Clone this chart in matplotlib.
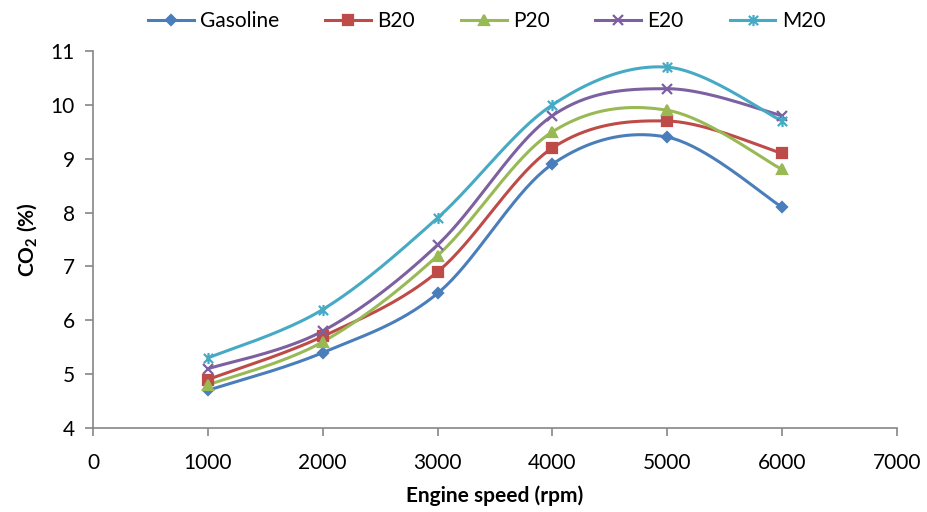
import numpy as np
import matplotlib
matplotlib.use('Agg')
import matplotlib.pyplot as plt
from matplotlib.path import Path

plt.rcParams['font.family'] = ['Lato', 'DejaVu Sans']
plt.rcParams['mathtext.fontset'] = 'custom'
plt.rcParams['mathtext.rm'] = 'Lato'
plt.rcParams['mathtext.bf'] = 'Lato:bold'

speed = [1000, 2000, 3000, 4000, 5000, 6000]
gasoline = [4.7, 5.4, 6.5, 8.9, 9.4, 8.1]
b20 = [4.9, 5.7, 6.9, 9.2, 9.7, 9.1]
p20 = [4.8, 5.6, 7.2, 9.5, 9.9, 8.8]
e20 = [5.1, 5.8, 7.4, 9.8, 10.3, 9.8]
m20 = [5.3, 6.2, 7.9, 10.0, 10.7, 9.7]


def smooth(x, y, n=40):
    # Excel-like smoothed line: Catmull-Rom bezier between points
    x = np.asarray(x, float)
    y = np.asarray(y, float)
    P = np.column_stack([x / 1000.0, y])
    P = np.vstack([P[0], P, P[-1]])
    out = []
    t = np.linspace(0, 1, n)[:, None]
    for i in range(1, len(P) - 2):
        p0, p1, p2, p3 = P[i - 1], P[i], P[i + 1], P[i + 2]
        c1 = p1 + (p2 - p0) / 6.0
        c2 = p2 - (p3 - p1) / 6.0
        seg = ((1 - t) ** 3) * p1 + 3 * ((1 - t) ** 2) * t * c1 + 3 * (1 - t) * t ** 2 * c2 + t ** 3 * p2
        out.append(seg if i == 1 else seg[1:])
    out = np.vstack(out)
    return out[:, 0] * 1000.0, out[:, 1]


star = Path([(-1, -1), (1, 1), (-1, 1), (1, -1), (0, -1.2), (0, 1.2)],
            [Path.MOVETO, Path.LINETO, Path.MOVETO, Path.LINETO, Path.MOVETO, Path.LINETO])

series = [
    ('Gasoline', gasoline, '#4A7EBB', 'D', 5),
    ('B20', b20, '#BE4B48', 's', 7),
    ('P20', p20, '#98B954', '^', 7),
    ('E20', e20, '#7D60A0', 'x', 7),
    ('M20', m20, '#46AAC5', star, 8),
]

fig = plt.figure(figsize=(9.27, 5.12), dpi=100)
ax = fig.add_axes([0.1003, 0.164, 0.8673, 0.7364])

for name, vals, col, mk, ms in series:
    xs, ys = smooth(speed, vals)
    ax.plot(xs, ys, color=col, lw=2.2, zorder=2)
    ax.plot(speed, vals, linestyle='none', marker=mk, ms=ms, color=col,
            mec=col, mew=1.6, zorder=3)
    ax.plot([], [], color=col, lw=2.2, marker=mk, ms=ms, mec=col, mew=1.6, label=name)

ax.set_xlim(0, 7000)
ax.set_ylim(4, 11)
ax.set_xticks(range(0, 7001, 1000))
ax.set_yticks(range(4, 12))
for s in ['top', 'right']:
    ax.spines[s].set_visible(False)
for s in ['left', 'bottom']:
    ax.spines[s].set_color('#868686')
    ax.spines[s].set_linewidth(1.2)
ax.tick_params(direction='out', length=6, width=1.2, color='#868686', labelsize=15, pad=7)
ax.tick_params(axis='x', pad=12)
ax.set_xlabel('Engine speed (rpm)', fontsize=15, fontweight='bold', labelpad=9)
ax.set_ylabel('CO$_\\mathbf{2}$ (%)', fontsize=15, fontweight='bold', labelpad=8)

fig.legend(loc='upper center', bbox_to_anchor=(0.525, 1.015), ncol=5, frameon=False,
           fontsize=15, handlelength=2.2, columnspacing=2.2, handletextpad=0.3)

fig.savefig('out.png', dpi=100)
